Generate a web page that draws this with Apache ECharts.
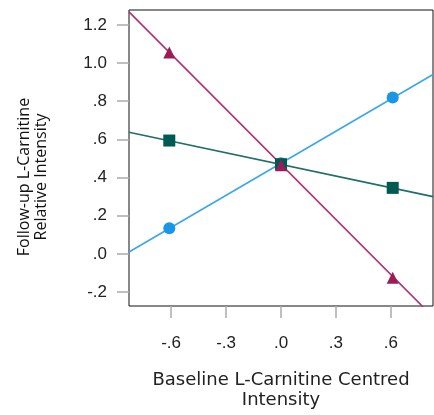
<!DOCTYPE html>
<html>
<head>
<meta charset="utf-8">
<script src="https://cdn.jsdelivr.net/npm/echarts@6/dist/echarts.min.js"></script>
<style>
  html, body { margin: 0; padding: 0; background: #fff; }
  #chart { width: 434px; height: 415px; }
</style>
</head>
<body>
<div id="chart"></div>
<script>
// Baseline (centred) values at which group means are plotted
const baselineX = [-0.61, 0, 0.61];

// Follow-up relative intensity at each baseline value
const circleY = [0.135, 0.475, 0.82];
const squareY = [0.594, 0.47, 0.346];
const triangleY = [1.055, 0.465, -0.125];

// Fitted line end values at the left and right edge of the plot
const lineX = [-0.83, 0.83];
const circleLine = [0.01, 0.94];
const squareLine = [0.637, 0.30];
const triangleLine = [1.268, -0.33];

// Tick values and labels
const yTicks = [-0.2, 0, 0.2, 0.4, 0.6, 0.8, 1.0, 1.2];
const yTickLabels = ['-.2', '.0', '.2', '.4', '.6', '.8', '1.0', '1.2'];
const xTicks = [-0.6, -0.3, 0, 0.3, 0.6];
const xTickLabels = ['-.6', '-.3', '.0', '.3', '.6'];

const pairs = (xs, ys) => xs.map((x, i) => [x, ys[i]]);
const labelFor = (ticks, labels) => v => {
  const i = ticks.findIndex(t => Math.abs(t - v) < 1e-6);
  return i >= 0 ? labels[i] : '';
};

const colors = {
  circle: '#1a96e6', circleLine: '#3aa7ec',
  square: '#005a54', squareLine: '#1f6e67',
  triangle: '#9a1d57', triangleLine: '#b3306c'
};

const tickFont = 'Liberation Sans, Arial, sans-serif';

const chart = echarts.init(document.getElementById('chart'), null, { renderer: 'canvas' });

function fitLine(ys, color) {
  return {
    type: 'line', data: pairs(lineX, ys), symbol: 'none', clip: true,
    lineStyle: { color: color, width: 1.6 }, silent: true, z: 2
  };
}
function points(ys, symbol, size, color) {
  return {
    type: 'scatter', data: pairs(baselineX, ys), symbol: symbol, symbolSize: size,
    itemStyle: { color: color, opacity: 1 }, z: 3
  };
}

chart.setOption({
  animation: false,
  backgroundColor: '#fff',
  grid: {
    left: 129, top: 10, right: 1, bottom: 106,
    show: true, borderColor: '#111', borderWidth: 1, backgroundColor: 'transparent'
  },
  xAxis: {
    type: 'value', min: -0.83, max: 0.83,
    axisLine: { show: false, onZero: false },
    splitLine: { show: false },
    axisTick: { show: true, customValues: xTicks, length: 12, lineStyle: { color: '#aaa', width: 1.5 } },
    axisLabel: {
      customValues: xTicks, formatter: labelFor(xTicks, xTickLabels),
      margin: 29, color: '#222', fontSize: 17, fontFamily: tickFont
    },
    name: 'Baseline L-Carnitine Centred\nIntensity',
    nameLocation: 'middle', nameGap: 64,
    nameTextStyle: {
      color: '#222', fontSize: 18, fontFamily: 'DejaVu Sans, Verdana, sans-serif',
      lineHeight: 20
    }
  },
  yAxis: {
    type: 'value', min: -0.273, max: 1.278,
    axisLine: { show: false, onZero: false },
    splitLine: { show: false },
    axisTick: { show: true, customValues: yTicks, length: 12, lineStyle: { color: '#aaa', width: 1.5 } },
    axisLabel: {
      customValues: yTicks, formatter: labelFor(yTicks, yTickLabels),
      margin: 22, color: '#222', fontSize: 17, fontFamily: tickFont,
      padding: [8, 0, 0, 0]
    }
  },
  graphic: [{
    type: 'text', rotation: Math.PI / 2,
    x: 16, y: 177,
    style: {
      text: 'Follow-up L-Carnitine\nRelative Intensity',
      fill: '#111', font: '16px "Open Sans", sans-serif',
      align: 'center', lineHeight: 17
    }
  }],
  series: [
    fitLine(circleLine, colors.circleLine),
    fitLine(squareLine, colors.squareLine),
    fitLine(triangleLine, colors.triangleLine),
    points(circleY, 'circle', 12, colors.circle),
    points(squareY, 'rect', 12, colors.square),
    points(triangleY, 'triangle', 12, colors.triangle)
  ]
});
</script>
</body>
</html>
